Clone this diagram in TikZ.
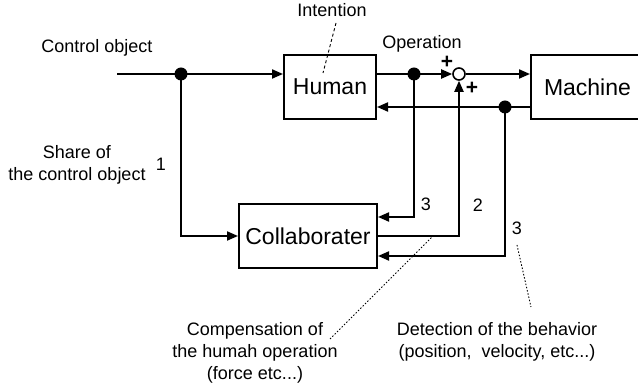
\documentclass[tikz,border=0pt]{standalone}
\usepackage{fontspec}
\setmainfont{Liberation Sans}
\usetikzlibrary{arrows.meta,calc}
\tikzset{
    block-box/.style = {draw=black, fill=white, line width=2pt, rectangle, minimum width=92pt, minimum height=64pt, font=\fontsize{23}{26}\selectfont},
    dot-node/.style = {circle, fill=black, inner sep=0pt, minimum size=13pt},
    sum-node/.style = {circle, draw=black, fill=white, line width=1.6pt, inner sep=0pt, minimum size=12pt},
    signal/.style = {line width=2pt, -{Triangle[length=11pt, width=9pt]}},
    plain-signal/.style = {line width=2pt},
    label-text/.style = {font=\fontsize{18}{22}\selectfont, inner sep=0pt},
    sign-text/.style = {font=\fontsize{21}{22}\selectfont\bfseries, inner sep=0pt},
    note-line/.style = {line width=0.9pt, dash pattern=on 1.5pt off 1.8pt},
}

\begin{document}
\begin{tikzpicture}[x=1pt, y=-1pt]
\useasboundingbox (0,0) rectangle (638,387);

% blocks
\node[block-box] (human) at (330,87) {Human};
\node[block-box, anchor=west, text width=104pt, align=left, inner xsep=13pt] (machine) at (530,87) {Machine};
\node[block-box, minimum width=138pt] (collab) at (308,236) {Collaborater};

% branch points and summing point
\coordinate (start) at (117,74);
\node[dot-node] (d1) at (181,74) {};
\node[dot-node] (d2) at (414,74) {};
\node[sum-node] (sum) at (459,74) {};
\node[dot-node] (d3) at (505,107) {};

% main loop
\draw[plain-signal] (start) -- (d1.center);
\draw[signal] (d1.center) -- (d1 -| human.west);
\draw[plain-signal] (d2 -| human.east) -- (d2.center);
\draw[signal] (d2.center) -- (sum.west);
\draw[signal] (sum.east) -- (sum -| machine.west);
\draw[signal] (d3 -| machine.west) -- (d3 -| human.east);

% paths through the collaborater
\draw[signal] (d1.center) |- (collab.west);
\draw[signal] (d2.center) |- ($(collab.east)+(0,-19)$);
\draw[signal] (collab.east) -| (sum.south);
\draw[signal] (d3.center) |- ($(collab.east)+(0,20)$);

% labels
\node[label-text, anchor=base] (ctrl) at (97,53) {Control object};
\node[label-text, align=center] (share) at (77,165) {Share of\\the control object};
\node[label-text, anchor=base] (n1) at (161,171) {1};
\node[label-text, anchor=base] (intent) at (332,17) {Intention};
\node[label-text, anchor=base] (oper) at (422,49) {Operation};
\node[sign-text] (p1) at (447,62) {+};
\node[sign-text] (p2) at (472,88) {+};
\node[label-text, anchor=base] (n3a) at (426,211) {3};
\node[label-text, anchor=base] (n2) at (478,212) {2};
\node[label-text, anchor=base] (n3b) at (517,235) {3};
\node[label-text, align=center] (comp) at (255,353) {Compensation of\\the humah operation\\(force etc...)};
\node[label-text, align=center] (detect) at (497,342) {Detection of the behavior\\(position,\ \ velocity, etc...)};

% pointers to the notes
\coordinate (intent-a) at (336,23);
\coordinate (intent-b) at (323,73);
\draw[line width=0.9pt, dashed, dash pattern=on 3pt off 2.5pt] (intent-a) -- (intent-b);
\coordinate (comp-a) at (330,339);
\coordinate (comp-b) at (432,237);
\draw[note-line] (comp-a) -- (comp-b);
\coordinate (detect-a) at (517,245);
\coordinate (detect-b) at (531,307);
\draw[note-line] (detect-a) -- (detect-b);
\end{tikzpicture}
\end{document}
